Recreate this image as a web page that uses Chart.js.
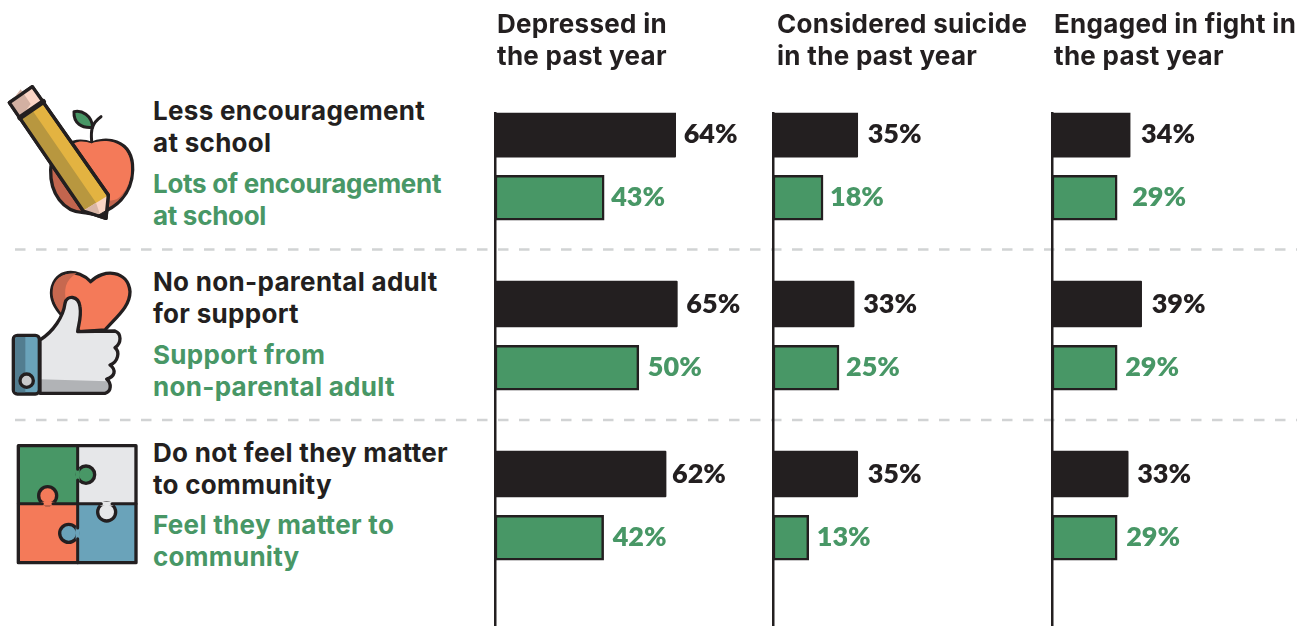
<!DOCTYPE html>
<html>
<head>
<meta charset="utf-8">
<title>Encouragement and support</title>
<script src="https://cdn.jsdelivr.net/npm/chart.js@4"></script>
<style>
html, body { margin: 0; padding: 0; background: #fff; overflow: hidden; height: 626px; }
canvas { position: absolute; top: 0; }
svg { position: absolute; }
.txt { position: absolute; white-space: pre; font: 700 26px/32px Inter, sans-serif; letter-spacing: 0.3px; color: #231f20; }
.txt.more { color: #489766; }
</style>
</head>
<body>
<svg style="left:0;top:0" width="1297" height="626">
  <line x1="15" y1="249.5" x2="1297" y2="249.5" stroke="#d1d3d4" stroke-width="2.5" stroke-dasharray="10.5 10.5"/>
  <line x1="15" y1="420" x2="1297" y2="420" stroke="#d1d3d4" stroke-width="2.5" stroke-dasharray="10.5 10.5"/>
</svg>

<!-- apple and pencil -->
<svg style="left:0;top:80" width="200" height="170" viewBox="0 0 600 510" stroke-linejoin="round" stroke-linecap="round">
  <path d="M275 190C310 172 400 172 398 270C396 350 340 385 300 400C280 405 270 400 250 398C190 395 150 340 152 270C155 200 225 170 275 190Z" fill="#c2654e" stroke="#231f20" stroke-width="10"/>
  <path d="M222 190C240 180 260 185 275 190C310 176 394 176 393 270C392 310 375 340 350 358C330 365 310 362 300 362Z" fill="#f47a59"/>
  <path d="M275 185C272 150 275 130 303 110" fill="none" stroke="#231f20" stroke-width="9"/>
  <path d="M222 95C245 90 275 105 278 142C245 145 220 130 222 95Z" fill="#489766" stroke="#231f20" stroke-width="9"/>
  <path d="M28 68L97 20L325 345L318 415L250 393Z" fill="#e3b341" stroke="#231f20" stroke-width="10"/>
  <path d="M65 115L250 393L288 368L98 92Z" fill="#b8973f"/>
  <path d="M31 68L95 24L130 68L62 113Z" fill="#fbd5c5"/>
  <path d="M31 68L62 28L92 72L62 113Z" fill="#d3b0a2"/>
  <path d="M60 113L130 65" stroke="#231f20" stroke-width="16" fill="none"/>
  <path d="M252 391L323 347L317 410Z" fill="#f9d5c5"/>
  <path d="M252 391L288 368L300 403Z" fill="#d9b6a6"/>
  <path d="M28 68L97 20L325 345L318 415L250 393Z" fill="none" stroke="#231f20" stroke-width="10"/>
  <path d="M296 405L318 392L318 416Z" fill="#231f20" stroke="#231f20" stroke-width="3"/>
</svg>

<!-- heart and thumb -->
<svg style="left:0;top:260" width="200" height="150" viewBox="0 0 600 450" stroke-linejoin="round" stroke-linecap="round">
  <path d="M272 65C235 25 165 25 155 90C150 130 185 165 190 170L240 215L315 210C350 170 390 140 390 95C385 30 310 25 272 65Z" fill="#f47a59" stroke="#231f20" stroke-width="10"/>
  <path d="M230 40C190 38 160 55 158 92C155 128 185 160 192 168L200 130C190 90 195 60 230 40Z" fill="#c7684f"/>
  <path d="M120 240C160 215 190 170 195 130C200 105 235 105 240 140C245 170 235 195 233 215L345 213C365 220 365 250 345 263C360 275 355 305 330 315C350 330 345 350 320 357C335 370 335 395 315 400L120 400Z" fill="#e6e7e9"/>
  <path d="M120 358L322 364C332 375 332 393 315 396L120 396Z" fill="#b1b3b6"/>
  <path d="M120 240C160 215 190 170 195 130C200 105 235 105 240 140C245 170 235 195 233 215L345 213C365 220 365 250 345 263C360 275 355 305 330 315C350 330 345 350 320 357C335 370 335 395 315 400L120 400Z" fill="none" stroke="#231f20" stroke-width="10"/>
  <rect x="40" y="226" width="78" height="176" rx="12" fill="#6aa3ba" stroke="#231f20" stroke-width="10"/>
  <path d="M45 238Q45 231 52 231L76 231L76 397L52 397Q45 397 45 390Z" fill="#527d90"/>
  <circle cx="80" cy="362" r="20" fill="#c9cacc" stroke="#231f20" stroke-width="10"/>
</svg>

<!-- puzzle -->
<svg style="left:0;top:430" width="200" height="150" viewBox="0 0 600 450" stroke-linejoin="round" stroke-linecap="round">
  <rect x="55" y="47" width="178" height="174" fill="#489766"/>
  <rect x="233" y="47" width="175" height="174" fill="#e6e7e9"/>
  <rect x="55" y="221" width="178" height="177" fill="#f47a59"/>
  <rect x="233" y="221" width="175" height="177" fill="#6aa3ba"/>
  <circle cx="258" cy="134" r="26" fill="#489766" stroke="#231f20" stroke-width="10"/>
  <path d="M233 118V150" stroke="#489766" stroke-width="12"/>
  <circle cx="143" cy="197" r="27" fill="#f47a59" stroke="#231f20" stroke-width="10"/>
  <path d="M127 221H159" stroke="#f47a59" stroke-width="12"/>
  <circle cx="320" cy="246" r="27" fill="#e6e7e9" stroke="#231f20" stroke-width="10"/>
  <path d="M304 221H336" stroke="#e6e7e9" stroke-width="12"/>
  <circle cx="206" cy="310" r="27" fill="#6aa3ba" stroke="#231f20" stroke-width="10"/>
  <path d="M233 294V326" stroke="#6aa3ba" stroke-width="12"/>
  <path d="M55 221H127M159 221H304M336 221H408M233 47V118M233 150V294M233 326V398" fill="none" stroke="#231f20" stroke-width="9"/>
  <rect x="55" y="47" width="353" height="351" fill="none" stroke="#231f20" stroke-width="10"/>
</svg>

<canvas id="chartDepressed" width="281" height="644" style="left:489px"></canvas>
<canvas id="chartSuicide" width="281" height="644" style="left:767px"></canvas>
<canvas id="chartFight" width="251" height="644" style="left:1046px"></canvas>

<script>
const columnTitles = ['Depressed in\nthe past year', 'Considered suicide\nin the past year', 'Engaged in fight in\nthe past year'];
const lessLabels = ['Less encouragement\nat school', 'No non-parental adult\nfor support', 'Do not feel they matter\nto community'];
const moreLabels = ['Lots of encouragement\nat school', 'Support from\nnon-parental adult', 'Feel they matter to\ncommunity'];

// printed percentages
const depressedLess = [64, 65, 62];
const depressedMore = [43, 50, 42];
const suicideLess = [35, 33, 35];
const suicideMore = [18, 25, 13];
const fightLess = [34, 39, 33];
const fightMore = [29, 29, 29];

// the bars in the picture are not drawn to the printed numbers,
// so their lengths are read off separately (same axis for all columns)
const depressedLessBars = [65.7, 66.3, 62.2];
const depressedMoreBars = [39.7, 52.3, 39.5];
const suicideLessBars = [30.8, 29.5, 30.8];
const suicideMoreBars = [18.2, 24, 13];
const fightLessBars = [28.4, 32.6, 27.7];
const fightMoreBars = [23.7, 23.7, 23.7];

const DARK = '#231f20';
const GREEN = '#489766';

// rows sit on a grid of 25 bands, most of them blank spacers
const lessSlots = [1, 9, 17];
const moreSlots = [4, 12, 20];
const BANDS = 26;
const PX_PER_UNIT = 2.75;

function addText(text, left, top, cls) {
    const el = document.createElement('div');
    el.className = 'txt ' + (cls || '');
    el.textContent = text;
    el.style.left = left + 'px';
    el.style.top = top + 'px';
    document.body.appendChild(el);
    return el;
}

[497, 777, 1054].forEach((left, i) => addText(columnTitles[i], left, 8));
[95, 266, 437].forEach((top, i) => addText(lessLabels[i], 153, top));
[168, 339, 509].forEach((top, i) => {
    const el = addText(moreLabels[i], 153, top, 'more');
    // this block is set tighter than the others in the picture
    if (i === 0) el.style.letterSpacing = '-0.3px';
});

function categories() {
    const cats = new Array(BANDS).fill('');
    lessSlots.forEach((slot, i) => { cats[slot] = lessLabels[i].replace('\n', ' '); });
    moreSlots.forEach((slot, i) => { cats[slot] = moreLabels[i].replace('\n', ' '); });
    return cats;
}

function spread(values, slots) {
    const out = new Array(BANDS).fill(null);
    slots.forEach((slot, i) => { out[slot] = values[i]; });
    return out;
}

const valueLabels = {
    id: 'valueLabels',
    afterDatasetsDraw(chart, args, opts) {
        const ctx = chart.ctx;
        ctx.save();
        ctx.font = '800 27px Lato, sans-serif';
        ctx.textBaseline = 'middle';
        chart.data.datasets.forEach((ds, d) => {
            const meta = chart.getDatasetMeta(d);
            const slots = d === 0 ? lessSlots : moreSlots;
            ctx.fillStyle = d === 0 ? DARK : GREEN;
            slots.forEach((slot, i) => {
                const bar = meta.data[slot];
                ctx.fillText(ds.printed[i] + '%', bar.x + opts.gaps[d][i], bar.y);
            });
        });
        ctx.restore();
    }
};

function drawColumn(id, less, more, lessBars, moreBars, gaps) {
    const canvas = document.getElementById(id);
    new Chart(canvas, {
        type: 'bar',
        data: {
            labels: categories(),
            datasets: [
                { label: 'Less', data: spread(lessBars, lessSlots), printed: less, backgroundColor: DARK, barThickness: 46, borderRadius: 1 },
                { label: 'More', data: spread(moreBars, moreSlots), printed: more, backgroundColor: GREEN, borderColor: DARK, borderWidth: 2.5, borderSkipped: false, barThickness: 45 }
            ]
        },
        plugins: [valueLabels],
        options: {
            indexAxis: 'y',
            responsive: false,
            animation: false,
            grouped: false,
            layout: { padding: { left: 6, top: 112.8, right: 0, bottom: 0 } },
            scales: {
                x: { display: false, min: 0, max: (canvas.width - 6) / PX_PER_UNIT },
                y: {
                    offset: false,
                    ticks: { display: false },
                    grid: { display: false, drawTicks: false },
                    border: { display: true, color: DARK, width: 2.5 }
                }
            },
            plugins: {
                legend: { display: false },
                tooltip: { enabled: false },
                valueLabels: { gaps: gaps }
            }
        }
    });
}

drawColumn('chartDepressed', depressedLess, depressedMore, depressedLessBars, depressedMoreBars, [[8, 9, 6], [7, 9, 9]]);
drawColumn('chartSuicide', suicideLess, suicideMore, suicideLessBars, suicideMoreBars, [[10, 9, 10], [7, 7, 8]]);
drawColumn('chartFight', fightLess, fightMore, fightLessBars, fightMoreBars, [[11, 10, 9], [15, 8, 9]]);
</script>
</body>
</html>
